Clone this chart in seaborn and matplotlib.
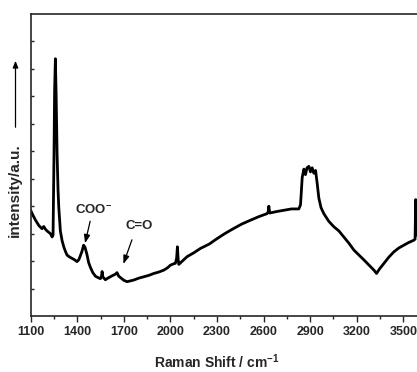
import numpy as np
import pandas as pd
import matplotlib
matplotlib.use("Agg")
import matplotlib.pyplot as plt
import seaborn as sns

# Raman shift (cm^-1) and intensity (a.u.)
shift = [1100, 1110, 1119, 1130, 1141, 1152, 1162, 1173, 1184, 1195, 1205, 1216,
         1227, 1238, 1244, 1250, 1254, 1259, 1264, 1270, 1276, 1281, 1291, 1302,
         1313, 1324, 1334, 1350, 1366, 1382, 1398, 1410, 1419, 1430, 1441, 1450,
         1462, 1473, 1484, 1500, 1517, 1533, 1549, 1556, 1560, 1565, 1581, 1597,
         1613, 1630, 1645, 1656, 1667, 1678, 1700, 1721, 1742, 1764, 1797, 1829,
         1861, 1893, 1925, 1957, 1980, 2000, 2020, 2032, 2040, 2045, 2050, 2054,
         2080, 2107, 2150, 2193, 2250, 2301, 2350, 2408, 2460, 2516, 2570, 2623,
         2630, 2634, 2640, 2680, 2731, 2780, 2827, 2838, 2849, 2860, 2870, 2880,
         2892, 2902, 2913, 2924, 2935, 2945, 2956, 2970, 2988, 3020, 3053, 3085,
         3117, 3150, 3182, 3215, 3247, 3280, 3311, 3328, 3345, 3376, 3408, 3440,
         3472, 3504, 3536, 3568, 3576, 3580, 3584, 3600]
intensity = [3.85, 3.72, 3.62, 3.50, 3.40, 3.30, 3.24, 3.18, 3.26, 3.16, 3.10, 3.05,
             3.00, 2.88, 2.95, 5.80, 8.20, 9.37, 8.00, 5.90, 4.60, 3.95, 3.10, 2.75,
             2.52, 2.35, 2.22, 2.15, 2.10, 2.05, 1.98, 2.05, 2.18, 2.35, 2.58, 2.50,
             2.25, 1.95, 1.78, 1.58, 1.45, 1.40, 1.36, 1.45, 1.62, 1.42, 1.32, 1.38,
             1.43, 1.48, 1.52, 1.58, 1.45, 1.40, 1.30, 1.25, 1.28, 1.31, 1.38, 1.43,
             1.48, 1.55, 1.60, 1.67, 1.75, 1.85, 1.90, 1.92, 2.10, 2.52, 2.05, 1.88,
             2.02, 2.16, 2.30, 2.46, 2.62, 2.82, 3.00, 3.19, 3.35, 3.49, 3.62, 3.73,
             3.80, 4.00, 3.75, 3.80, 3.85, 3.90, 3.90, 4.05, 5.05, 5.35, 5.15, 5.40,
             5.45, 5.25, 5.40, 5.20, 5.30, 4.85, 4.30, 3.95, 3.73, 3.45, 3.25, 3.10,
             2.88, 2.65, 2.40, 2.22, 2.04, 1.85, 1.67, 1.55, 1.70, 1.92, 2.15, 2.34,
             2.48, 2.58, 2.68, 2.76, 2.80, 4.24, 2.95, 3.13]

xticks = [1100, 1400, 1700, 2000, 2300, 2600, 2900, 3200, 3500]

df = pd.DataFrame({"shift": shift, "intensity": intensity})

sns.set_style("ticks")
plt.rcParams["font.family"] = ["Liberation Sans", "DejaVu Sans"]
plt.rcParams["font.weight"] = "bold"
plt.rcParams["mathtext.fontset"] = "custom"
plt.rcParams["mathtext.rm"] = "Liberation Sans:bold"
plt.rcParams["mathtext.it"] = "Liberation Sans:bold"
plt.rcParams["mathtext.bf"] = "Liberation Sans:bold"

W, H = 417, 372
fig = plt.figure(figsize=(W / 100, H / 100), dpi=100)
left_px, right_px, top_px, bot_px = 30.7, 418.8, 14, 316
ax = fig.add_axes([left_px / W, (H - bot_px) / H, (right_px - left_px) / W, (bot_px - top_px) / H])

sns.lineplot(data=df, x="shift", y="intensity", ax=ax, color="black", linewidth=2.0,
             estimator=None, sort=False)

ax.set_xlim(1100, 3600)
ax.set_ylim(0, 11)
ax.set_xticks(xticks)
ax.set_xticks(np.arange(1250, 3600, 300), minor=True)
ax.set_xticklabels([str(t) for t in xticks], fontsize=9, fontweight="bold")
ax.set_yticks(np.arange(1, 11, 1))
ax.set_yticklabels([])
ax.tick_params(axis="x", which="major", direction="out", length=4, width=1, pad=3)
ax.tick_params(axis="x", which="minor", direction="out", length=2.5, width=1)
ax.tick_params(axis="y", which="major", direction="in", length=2.5, width=1)
for s in ax.spines.values():
    s.set_linewidth(1.2)
    s.set_visible(True)

ax.set_xlabel("")
ax.set_ylabel("")
fig.text(217 / W, 1 - 362 / H, r"Raman Shift / cm$^{-1}$", ha="center", va="center",
         fontsize=10, fontweight="bold")
fig.text(15 / W, 1 - 190 / H, "intensity/a.u.", rotation=90, ha="center", va="center",
         fontsize=11, fontweight="bold")
fig.add_artist(matplotlib.patches.FancyArrowPatch(
    (15.5 / W, 1 - 130 / H), (15.5 / W, 1 - 58 / H), transform=fig.transFigure,
    arrowstyle="-|>,head_length=4,head_width=1.6", color="black", linewidth=0.9,
    mutation_scale=1))

ax.annotate("", xy=(1446, 2.55), xytext=(1487, 3.55),
            arrowprops=dict(arrowstyle="-|>,head_length=0.5,head_width=0.18", color="black", lw=0.9))
ax.text(1504, 3.85, "COO$^{\\mathbf{-}}$", ha="center", va="center", fontsize=9.5, fontweight="bold")
ax.annotate("", xy=(1691, 1.80), xytext=(1758, 2.87),
            arrowprops=dict(arrowstyle="-|>,head_length=0.5,head_width=0.18", color="black", lw=0.9))
ax.text(1797, 3.27, "C=O", ha="center", va="center", fontsize=9.5, fontweight="bold")

fig.savefig("out.png", dpi=100)
